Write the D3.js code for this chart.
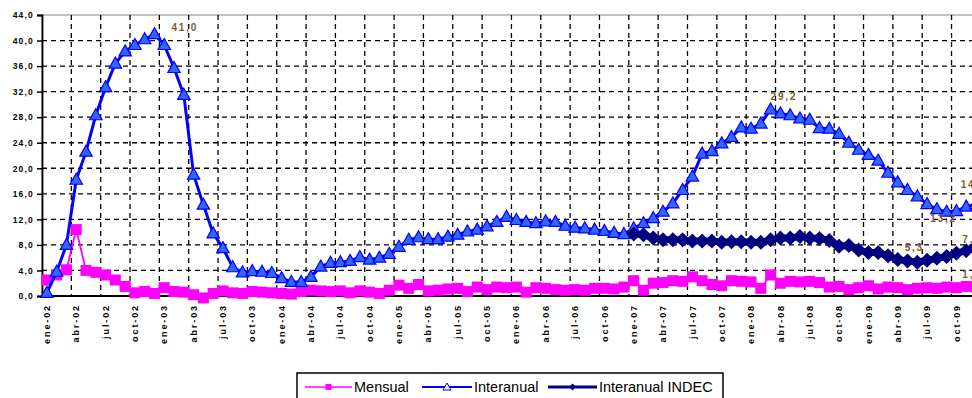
<!DOCTYPE html>
<html>
<head>
<meta charset="utf-8">
<script src="https://cdn.jsdelivr.net/npm/d3@7"></script>
<style>
  body { margin: 0; background: #fff; }
  svg { display: block; }
</style>
</head>
<body>
<svg id="chart" width="972" height="398"></svg>
<script>
// ---- data ---------------------------------------------------------------
const monthNames = ["ene","feb","mar","abr","may","jun","jul","ago","sep","oct","nov","dic"];
const years = ["02","03","04","05","06","07","08","09"];
const categories = years.flatMap(y => monthNames.map(m => `${m}-${y}`));
const tickLabels = categories.filter((d, i) => i % 3 === 0);
const yTicks = [0, 4, 8, 12, 16, 20, 24, 28, 32, 36, 40, 44];

// monthly variation (%)
const mensual = [
  2.5, 3.3, 4.1, 10.4, 4.0, 3.7, 3.3, 2.5, 1.5, 0.5, 0.7, 0.4,
  1.3, 0.7, 0.6, 0.2, -0.3, 0.4, 0.8, 0.5, 0.4, 0.7, 0.6, 0.5,
  0.4, 0.3, 0.7, 0.9, 0.8, 0.7, 0.8, 0.5, 0.8, 0.6, 0.4, 0.9,
  1.7, 1.2, 1.8, 0.8, 0.9, 1.1, 1.2, 0.7, 1.4, 1.0, 1.4, 1.3,
  1.4, 0.6, 1.3, 1.2, 1.0, 0.9, 1.0, 0.9, 1.2, 1.2, 1.1, 1.4,
  2.4, 0.9, 2.0, 2.1, 2.4, 2.3, 3.0, 2.4, 1.8, 1.6, 2.4, 2.3,
  2.2, 1.2, 3.3, 2.0, 2.3, 2.2, 2.3, 2.1, 1.4, 1.5, 1.0, 1.3,
  1.6, 1.1, 1.4, 1.3, 1.0, 1.2, 1.3, 1.2, 1.4, 1.3, 1.5, 1.4
];

// year-on-year variation (%)
const interanual = [
  0.5, 3.8, 8.0, 18.2, 22.6, 28.3, 32.7, 36.4, 38.3, 39.3, 40.2, 41.0,
  39.3, 35.7, 31.5, 19.0, 14.3, 9.8, 7.5, 4.5, 3.7, 3.9, 3.8, 3.6,
  2.8, 2.2, 2.2, 3.0, 4.6, 5.2, 5.3, 5.5, 6.1, 5.7, 6.0, 6.6,
  7.7, 8.8, 9.2, 8.9, 8.9, 9.3, 9.6, 10.1, 10.4, 10.9, 11.6, 12.4,
  11.9, 11.6, 11.4, 11.7, 11.6, 11.0, 10.7, 10.6, 10.4, 10.2, 9.9, 9.7,
  10.6, 11.4, 12.2, 13.2, 14.5, 16.6, 18.7, 22.3, 22.7, 23.9, 24.9, 26.4,
  26.2, 27.0, 29.2, 28.6, 28.3, 27.8, 27.6, 26.3, 26.2, 25.4, 24.0, 22.9,
  22.1, 21.2, 19.3, 17.8, 16.6, 15.6, 14.4, 13.6, 13.2, 13.3, 14.0, 14.4
];

// official year-on-year series, from ene-07
const indecStart = "ene-07";
const interanualIndec = [
  9.7, 9.6, 9.1, 8.8, 8.8, 8.8, 8.6, 8.6, 8.6, 8.4, 8.5, 8.5,
  8.4, 8.4, 8.8, 9.1, 9.1, 9.3, 9.1, 9.0, 8.7, 7.8, 7.9, 7.2,
  6.8, 6.8, 6.3, 5.7, 5.5, 5.3, 5.6, 5.9, 6.2, 6.7, 7.1, 7.7
];

const seriesNames = ["Mensual", "Interanual", "Interanual INDEC"];

// ---- layout ---------------------------------------------------------------
const svg = d3.select("#chart");
const plot = { left: 42, top: 15, bottom: 296, step: 9.78 };
plot.right = plot.left + categories.length * plot.step;

const x = d3.scaleBand().domain(categories).range([plot.left, plot.right]).padding(0);
const cx = c => x(c) + x.bandwidth() / 2;
const y = d3.scaleLinear().domain([0, 44]).range([plot.bottom, plot.top]);
const fmt = v => v.toFixed(1).replace(".", ",");

const colors = { mensual: "#ff00ff", interanual: "#0000ff", triFill: "#3366ff", indec: "#000080" };

const rows = (vals, offset = 0) => vals.map((v, i) => ({ c: categories[i + offset], v }));
const mensualRows = rows(mensual);
const interanualRows = rows(interanual);
const indecRows = rows(interanualIndec, categories.indexOf(indecStart));

// ---- plot frame & grid ------------------------------------------------------
svg.append("rect")
  .attr("x", plot.left).attr("y", plot.top)
  .attr("width", plot.right - plot.left).attr("height", plot.bottom - plot.top)
  .attr("fill", "#fff").attr("stroke", "#9a9a9a").attr("stroke-width", 1.2);

const grid = svg.append("g").attr("stroke", "#000").attr("stroke-width", 1.3)
  .attr("stroke-dasharray", "5,4");
grid.selectAll("line.h").data(yTicks.filter(t => t > 0 && t < 44)).join("line")
  .attr("class", "h")
  .attr("x1", plot.left).attr("x2", plot.right)
  .attr("y1", d => y(d)).attr("y2", d => y(d));
grid.selectAll("line.v").data(tickLabels.slice(1)).join("line")
  .attr("class", "v")
  .attr("x1", d => x(d)).attr("x2", d => x(d))
  .attr("y1", plot.top).attr("y2", plot.bottom);

// ---- axes ---------------------------------------------------------------------
const yAxis = svg.append("g").attr("transform", `translate(${plot.left},0)`)
  .call(d3.axisLeft(y).tickValues(yTicks).tickFormat(fmt).tickSize(5).tickPadding(3));
yAxis.select(".domain").attr("stroke", "#000").attr("stroke-width", 1.8);
yAxis.selectAll(".tick line").attr("stroke", "#000").attr("stroke-width", 1.5);
yAxis.selectAll("text")
  .attr("font-family", "Liberation Sans, Arial, sans-serif")
  .attr("font-size", 8.5).attr("font-weight", "bold")
  .attr("letter-spacing", "1.2px").attr("fill", "#000");

const xAxis = svg.append("g").attr("transform", `translate(0,${plot.bottom})`)
  .call(d3.axisBottom(x).tickValues(tickLabels).tickSize(0).tickPadding(0));
xAxis.select(".domain").remove();
xAxis.selectAll("text")
  .attr("font-family", "Liberation Sans, Arial, sans-serif")
  .attr("font-size", 9).attr("font-weight", "bold")
  .attr("letter-spacing", "1.9px").attr("fill", "#000")
  .attr("text-anchor", "end")
  .attr("dy", "0.35em")
  .attr("transform", "translate(0,8) rotate(-90)");

svg.append("line")
  .attr("x1", plot.left).attr("x2", plot.right)
  .attr("y1", plot.bottom).attr("y2", plot.bottom)
  .attr("stroke", "#000").attr("stroke-width", 1.8);

// ---- series -------------------------------------------------------------------
const line = d3.line().x(d => cx(d.c)).y(d => y(d.v));
const triangle = "M0,-6.5L6.2,4.5L-6.2,4.5Z";
const diamond = "M0,-7.5L7.5,0L0,7.5L-7.5,0Z";

// Mensual
svg.append("path").datum(mensualRows).attr("d", line)
  .attr("fill", "none").attr("stroke", colors.mensual).attr("stroke-width", 1.8);
svg.append("g").selectAll("rect").data(mensualRows).join("rect")
  .attr("x", d => cx(d.c) - 5.5).attr("y", d => y(d.v) - 5.5)
  .attr("width", 11).attr("height", 11).attr("fill", colors.mensual);

// Interanual
svg.append("path").datum(interanualRows).attr("d", line)
  .attr("fill", "none").attr("stroke", colors.interanual).attr("stroke-width", 3);
svg.append("g").selectAll("path").data(interanualRows).join("path")
  .attr("d", triangle)
  .attr("transform", d => `translate(${cx(d.c)},${y(d.v)})`)
  .attr("fill", colors.triFill).attr("stroke", colors.interanual).attr("stroke-width", 1.2);

// Interanual INDEC
svg.append("path").datum(indecRows).attr("d", line)
  .attr("fill", "none").attr("stroke", colors.indec).attr("stroke-width", 7);
svg.append("g").selectAll("path").data(indecRows).join("path")
  .attr("d", diamond)
  .attr("transform", d => `translate(${cx(d.c)},${y(d.v)})`)
  .attr("fill", colors.indec);

// ---- value labels ----------------------------------------------------------------
const labelSpecs = [
  { rows: interanualRows, c: "dic-02", dx: 17, dy: -3, anchor: "start" },
  { rows: interanualRows, c: "mar-08", dx: 0, dy: -10, anchor: "start" },
  { rows: interanualRows, c: "sep-09", dx: -3, dy: 10, anchor: "middle" },
  { rows: interanualRows, c: "dic-09", dx: -2, dy: -16, anchor: "middle" },
  { rows: indecRows, c: "jun-09", dx: -3, dy: -11, anchor: "middle" },
  { rows: indecRows, c: "dic-09", dx: -4, dy: -4, anchor: "middle" },
  { rows: mensualRows, c: "dic-09", dx: -4, dy: -9, anchor: "middle" }
];
svg.append("g").selectAll("text").data(labelSpecs).join("text")
  .attr("x", d => cx(d.c) + d.dx)
  .attr("y", d => y(d.rows.find(r => r.c === d.c).v) + d.dy)
  .attr("text-anchor", d => d.anchor)
  .attr("font-family", "Liberation Sans, Arial, sans-serif")
  .attr("font-size", 10).attr("font-weight", "bold")
  .attr("letter-spacing", "1.8px").attr("fill", "#7a5c34")
  .text(d => fmt(d.rows.find(r => r.c === d.c).v));

// ---- legend ---------------------------------------------------------------------
const legend = svg.append("g");
legend.append("rect").attr("x", 297).attr("y", 373).attr("width", 426).attr("height", 32)
  .attr("fill", "#fff").attr("stroke", "#000").attr("stroke-width", 1.5);
const legendItems = [
  { name: seriesNames[0], x0: 305, x1: 352, color: colors.mensual, width: 1.6, marker: "square" },
  { name: seriesNames[1], x0: 422, x1: 472, color: colors.interanual, width: 2.2, marker: "triangle" },
  { name: seriesNames[2], x0: 548, x1: 597, color: colors.indec, width: 3, marker: "diamond" }
];
const ly = 387;
legendItems.forEach(it => {
  const g = legend.append("g");
  g.append("line").attr("x1", it.x0).attr("x2", it.x1).attr("y1", ly).attr("y2", ly)
    .attr("stroke", it.color).attr("stroke-width", it.width);
  const mx = (it.x0 + it.x1) / 2;
  if (it.marker === "square") {
    g.append("rect").attr("x", mx - 3).attr("y", ly - 3).attr("width", 6).attr("height", 6).attr("fill", it.color);
  } else if (it.marker === "triangle") {
    g.append("path").attr("d", "M0,-4L4,3L-4,3Z").attr("transform", `translate(${mx},${ly})`)
      .attr("fill", "#fff").attr("stroke", it.color).attr("stroke-width", 1);
  } else {
    g.append("path").attr("d", "M0,-3.5L3.5,0L0,3.5L-3.5,0Z").attr("transform", `translate(${mx},${ly})`)
      .attr("fill", it.color);
  }
  g.append("text").attr("x", it.x1 + 2).attr("y", ly + 5)
    .attr("font-family", "Liberation Sans, Arial, sans-serif").attr("font-size", 14.5)
    .attr("fill", "#000").text(it.name);
});
</script>
</body>
</html>
